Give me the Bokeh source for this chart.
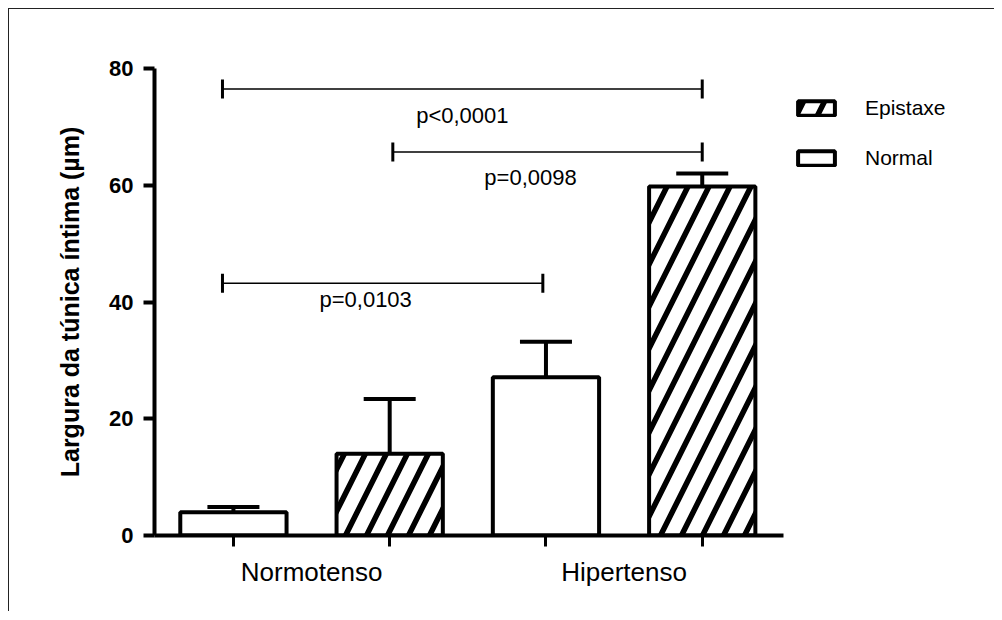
from bokeh.plotting import figure
from bokeh.layouts import row
from bokeh.models import (Range1d, FixedTicker, Whisker, TeeHead, ColumnDataSource,
                          Legend, LegendItem)
from bokeh.core.properties import value
from bokeh.embed import file_html
from bokeh.resources import INLINE

# ---------------- data ----------------
groups = ["Normotenso", "Hipertenso"]
normal_mean = [4.0, 27.1]
normal_upper = [4.9, 33.2]
epistaxe_mean = [14.0, 59.8]
epistaxe_upper = [23.4, 62.0]
y_ticks = [0, 20, 40, 60, 80]

# comparisons: bar index (1..4) endpoints, height and p-value text
comp_start = [0.93, 2.02, 0.93]
comp_end = [4.0, 4.0, 2.98]
comp_y = [76.5, 65.7, 43.2]
comp_labels = ["p<0,0001", "p=0,0098", "p=0,0103"]

FONT = "Liberation Sans"

# bar positions: group g -> Normal at 2g+1, Epistaxe at 2g+2
normal_x = [2 * g + 1 for g in range(len(groups))]
epistaxe_x = [2 * g + 2 for g in range(len(groups))]
group_centers = [2 * g + 1.5 for g in range(len(groups))]

NORMAL_STYLE = dict(fill_color="white", line_color="black", line_width=4)
EPI_STYLE = dict(fill_color="white", line_color="black", line_width=4,
                 hatch_pattern="right_diagonal_line", hatch_color="black",
                 hatch_weight=5.5, hatch_scale=42)

p = figure(width=784, height=602, output_backend="svg", toolbar_location=None,
           x_range=Range1d(0.495, 4.52), y_range=Range1d(0, 80),
           min_border_left=145, min_border_right=10, min_border_top=59,
           min_border_bottom=76)
p.outline_line_color = None
p.grid.visible = False

src_n = ColumnDataSource(dict(x=normal_x, top=normal_mean, upper=normal_upper))
src_e = ColumnDataSource(dict(x=epistaxe_x, top=epistaxe_mean, upper=epistaxe_upper))

p.vbar(x="x", top="top", bottom=0, width=0.68, source=src_n, **NORMAL_STYLE)
p.vbar(x="x", top="top", bottom=0, width=0.68, source=src_e, **EPI_STYLE)

for src in (src_n, src_e):
    w = Whisker(base="x", lower="top", upper="upper", source=src,
                line_width=4, line_color="black", lower_head=None,
                upper_head=TeeHead(size=52, line_width=4, line_color="black"))
    p.add_layout(w)

# comparison brackets
p.segment(x0=comp_start, y0=comp_y, x1=comp_end, y1=comp_y,
          line_color="black", line_width=1.6)
p.scatter(x=comp_start + comp_end, y=comp_y + comp_y, marker="dash", angle=1.5708,
          size=19, line_color="black", line_width=3)

mid = [(a + b) / 2 for a, b in zip(comp_start, comp_end)]
dx_px = [0, -17, -17]
dy_px = [27, 26, 16]
p.text(x=mid, y=comp_y, text=comp_labels, x_offset=dx_px, y_offset=dy_px,
       text_align="center", text_baseline="alphabetic",
       text_font=value(FONT), text_font_size="22px", text_color="black")

# axes
ya = p.yaxis[0]
ya.ticker = FixedTicker(ticks=y_ticks, minor_ticks=[])
ya.axis_line_width = 4
ya.major_tick_line_width = 4
ya.major_tick_out = 11
ya.major_tick_in = 0
ya.minor_tick_line_color = None
ya.major_label_text_font = FONT
ya.major_label_text_font_size = "22px"
ya.major_label_text_font_style = "bold"
ya.major_label_text_color = "black"
ya.major_label_standoff = 10
ya.axis_label = "Largura da túnica íntima (µm)"
ya.axis_label_text_font = FONT
ya.axis_label_text_font_size = "25px"
ya.axis_label_text_font_style = "bold"
ya.axis_label_text_color = "black"
ya.axis_label_standoff = 22

xa = p.xaxis[0]
xa.ticker = FixedTicker(ticks=group_centers, minor_ticks=normal_x + epistaxe_x)
xa.major_label_overrides = {c: g for c, g in zip(group_centers, groups)}
xa.axis_line_width = 4
xa.major_tick_line_color = None
xa.major_tick_out = 11
xa.major_tick_in = 0
xa.minor_tick_line_width = 3
xa.minor_tick_out = 11
xa.minor_tick_in = 0
xa.major_label_text_font = FONT
xa.major_label_text_font_size = "26px"
xa.major_label_text_color = "black"
xa.major_label_standoff = 10

# legend panel: a separate figure to the right holding only legend swatches
leg = figure(width=201, height=602, output_backend="svg", toolbar_location=None,
             x_range=Range1d(0, 1), y_range=Range1d(0, 1),
             x_axis_location=None, y_axis_location=None,
             min_border_left=0, min_border_right=0, min_border_bottom=76,
             min_border_top=59)
leg.outline_line_color = None
leg.grid.visible = False
nan_src = dict(x=[float("nan")], top=[float("nan")])
lr_e = leg.vbar(x="x", top="top", width=0.1, source=ColumnDataSource(nan_src), **EPI_STYLE)
lr_n = leg.vbar(x="x", top="top", width=0.1, source=ColumnDataSource(nan_src), **NORMAL_STYLE)
legend = Legend(items=[LegendItem(label="Epistaxe", renderers=[lr_e]),
                       LegendItem(label="Normal", renderers=[lr_n])],
                location=(0, 365), glyph_width=46, glyph_height=18,
                label_text_font=FONT, label_text_font_size="21px",
                label_text_color="black",
                label_standoff=26, spacing=26, padding=0, margin=0,
                border_line_color=None, background_fill_alpha=0)
leg.add_layout(legend)

layout = row(p, leg)
layout.styles = {"margin-left": "8px", "margin-top": "8px",
                 "border-top": "1px solid #222", "border-left": "1px solid #222"}

open("out.html", "w").write(file_html(layout, INLINE))
